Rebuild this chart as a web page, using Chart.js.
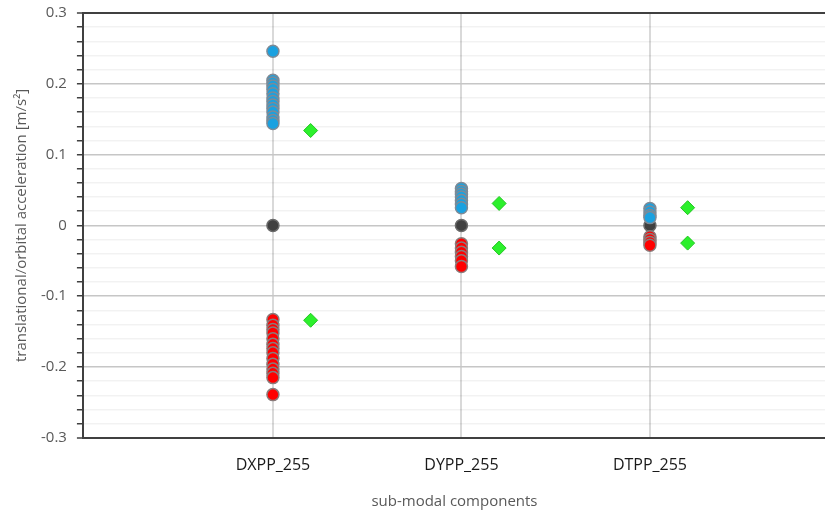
<!DOCTYPE html>
<html>
<head>
<meta charset="utf-8">
<script src="https://cdn.jsdelivr.net/npm/chart.js@4"></script>
<style>
  html, body { margin: 0; padding: 0; background: #fff; overflow: hidden; width: 825px; height: 511px; }
  #chart { display: block; }
</style>
</head>
<body>
<!-- a little wider than the window: the plot frame runs off the right edge -->
<canvas id="chart" width="834" height="511"></canvas>
<script>
// categories and their x positions
const categories = ['DXPP_255', 'DYPP_255', 'DTPP_255'];
const catPos = [1, 2, 3];
const diamondOffset = 0.2;

// measured values per category (m/s^2)
const positiveVals = [
    [0.246, 0.205, 0.201, 0.197, 0.192, 0.186, 0.180, 0.175, 0.170, 0.165, 0.160, 0.153, 0.148, 0.144],
    [0.052, 0.048, 0.044, 0.040, 0.035, 0.030, 0.025],
    [0.024, 0.019, 0.014, 0.011]
];
const zeroVals = [[0], [0], [0]];
const negativeVals = [
    [-0.133, -0.141, -0.147, -0.152, -0.160, -0.168, -0.174, -0.180, -0.188, -0.196, -0.203, -0.209, -0.215, -0.239],
    [-0.026, -0.032, -0.038, -0.044, -0.050, -0.058],
    [-0.016, -0.020, -0.024, -0.028]
];
const diamondVals = [
    [0.134, -0.134],
    [0.031, -0.032],
    [0.025, -0.025]
];

const yTicks = [-0.3, -0.2, -0.1, 0, 0.1, 0.2, 0.3];

function toPoints(groups, offset) {
    const pts = [];
    groups.forEach((vals, i) => {
        vals.forEach(v => pts.push({ x: catPos[i] + offset, y: v }));
    });
    return pts;
}

// drop the label overhang padding so the plot area fills the frame
function noPadding(axis) {
    axis.paddingLeft = 0;
    axis.paddingRight = 0;
    axis.paddingTop = 0;
    axis.paddingBottom = 0;
}

const ctx = document.getElementById('chart').getContext('2d');
new Chart(ctx, {
    type: 'scatter',
    data: {
        datasets: [
            {
                label: 'positive',
                data: toPoints(positiveVals, 0),
                backgroundColor: '#1aa1e0',
                borderColor: '#7d8a96',
                borderWidth: 1.5,
                pointRadius: 6
            },
            {
                label: 'negative',
                data: toPoints(negativeVals, 0),
                backgroundColor: '#ff0000',
                borderColor: '#8a7a7a',
                borderWidth: 1.5,
                pointRadius: 6
            },
            {
                label: 'zero',
                data: toPoints(zeroVals, 0),
                backgroundColor: '#404040',
                borderColor: '#6a6a6a',
                borderWidth: 1.5,
                pointRadius: 6
            },
            {
                label: 'envelope',
                data: toPoints(diamondVals, diamondOffset),
                backgroundColor: '#2cf02c',
                borderColor: '#22c522',
                borderWidth: 1,
                pointStyle: 'rectRot',
                pointRadius: 7
            }
        ]
    },
    options: {
        responsive: false,
        animation: false,
        layout: { padding: { top: 13, right: 0, bottom: 0, left: 13 } },
        plugins: {
            legend: { display: false },
            tooltip: { enabled: false }
        },
        scales: {
            x: {
                type: 'linear',
                min: -0.008,
                max: 3.934,
                afterBuildTicks: (axis) => {
                    axis.ticks = catPos.map(v => ({ value: v }));
                },
                afterFit: noPadding,
                ticks: {
                    autoSkip: false,
                    maxRotation: 0,
                    padding: 18,
                    color: '#1a1a1a',
                    font: { family: 'Open Sans', size: 16 },
                    callback: (value) => categories[catPos.indexOf(value)] || ''
                },
                grid: {
                    color: '#d9d9d9',
                    lineWidth: 2,
                    drawTicks: false
                },
                border: { display: false },
                title: {
                    display: true,
                    text: 'sub-modal components',
                    color: '#595959',
                    font: { family: 'Open Sans', size: 15 },
                    padding: { top: 0, bottom: 0 }
                }
            },
            y: {
                min: -0.3,
                max: 0.3,
                afterFit: noPadding,
                ticks: {
                    stepSize: 0.02,
                    autoSkip: false,
                    padding: 10,
                    color: '#595959',
                    font: { family: 'Open Sans', size: 15 },
                    callback: (value) => {
                        const r = Math.round(value * 100) / 100;
                        const hit = yTicks.find(t => Math.abs(t - r) < 1e-6);
                        return hit === undefined ? '' : String(hit);
                    }
                },
                grid: {
                    color: (c) => {
                        const v = Math.round(c.tick.value * 100);
                        if (Math.abs(v) === 30) return '#404040';
                        return v % 10 === 0 ? '#c6c6c6' : 'rgba(0,0,0,0.05)';
                    },
                    lineWidth: (c) => {
                        const v = Math.round(c.tick.value * 100);
                        return Math.abs(v) === 30 ? 2 : 1.5;
                    },
                    tickColor: '#404040',
                    tickLength: 6,
                    tickWidth: 1.5
                },
                border: { color: '#404040', width: 2 },
                title: {
                    display: true,
                    text: 'translational/orbital acceleration [m/s²]',
                    color: '#595959',
                    font: { family: 'Open Sans', size: 15 },
                    padding: { top: 0, bottom: 0 }
                }
            }
        }
    }
});
</script>
</body>
</html>
